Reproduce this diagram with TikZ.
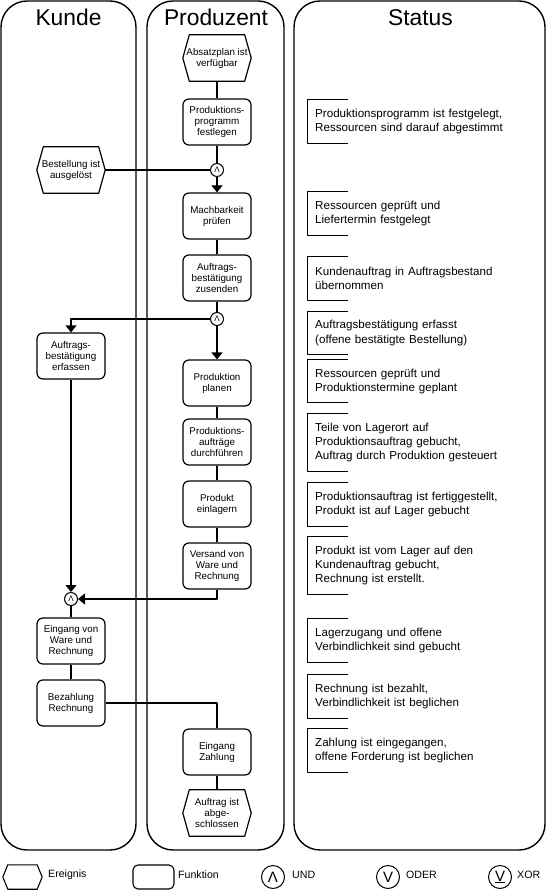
\documentclass[tikz,border=0pt]{standalone}
\usepackage{fontspec}
\setmainfont{Liberation Sans}
\usetikzlibrary{arrows.meta}
\begin{document}
\begin{tikzpicture}[x=1pt,y=-1pt, line join=round,
 lane/.style={draw, line width=1.4pt, rounded corners=26pt},
 title/.style={font=\fontsize{22.8}{26}\selectfont, anchor=base, inner sep=0pt},
 fn/.style={draw, line width=1.2pt, rounded corners=6pt, minimum width=68pt, minimum height=46pt, align=center, font=\fontsize{9.8}{11}\selectfont, inner sep=1pt},
 ev/.style={minimum width=68pt, minimum height=46pt, align=center, font=\fontsize{9.8}{11}\selectfont, inner sep=1pt},
 con/.style={draw, circle, line width=1pt, minimum size=13pt, inner sep=0pt, fill=white, font=\fontsize{8}{8}\selectfont},
 st/.style={anchor=west, align=left, inner xsep=8pt, inner ysep=0pt, font=\fontsize{11.6}{14}\selectfont, text width=220pt},
 ln/.style={line width=1.2pt},
 arr/.style={ln, -{Triangle[width=11pt,length=7pt]}},
 lgtext/.style={anchor=west, inner sep=0pt, font=\fontsize{10.6}{12}\selectfont},
 lgcon/.style={draw, circle, line width=1pt, minimum size=23pt, inner sep=0pt, font=\fontsize{15}{15}\selectfont},
]
\useasboundingbox (0,0) rectangle (547,890);

% lanes
\draw[lane] (1,1) rectangle (136,850);
\draw[lane] (147,1) rectangle (284,850);
\draw[lane] (294,1) rectangle (545,850);
\node[title] (tk) at (68.5,26) {Kunde};
\node[title] (tp) at (216,26) {Produzent};
\node[title] (ts) at (420.5,26) {Status};

% Produzent
\node[ev] (p_abs) at (217,58) {Absatzplan ist\\verfügbar};
\node[fn] (p_prog) at (217,122) {Produktions-\\programm\\festlegen};
\node[con] (and1) at (217,170) {Λ};
\node[fn] (p_mach) at (217,216) {Machbarkeit\\prüfen};
\node[fn] (p_best) at (217,278) {Auftrags-\\bestätigung\\zusenden};
\node[con] (and2) at (217,319) {Λ};
\node[fn] (p_plan) at (217,383) {Produktion\\planen};
\node[fn] (p_dur) at (217,442) {Produktions-\\aufträge\\durchführen};
\node[fn] (p_einl) at (217,504) {Produkt\\einlagern};
\node[fn] (p_vers) at (217,566) {Versand von\\Ware und\\Rechnung};
\node[fn] (p_zahl) at (217,752) {Eingang\\Zahlung};
\node[ev] (p_abg) at (217,813) {Auftrag ist\\abge-\\schlossen};

% Kunde
\node[ev] (k_best) at (71,170) {Bestellung ist\\ausgelöst};
\node[fn] (k_erf) at (71,356) {Auftrags-\\bestätigung\\erfassen};
\node[con] (and3) at (71,599) {Λ};
\node[fn] (k_eing) at (71,641) {Eingang von\\Ware und\\Rechnung};
\node[fn] (k_bez) at (71,703) {Bezahlung\\Rechnung};

% event hexagons
\foreach \n in {p_abs,p_abg,k_best}
  \draw[line width=1.2pt] ([xshift=6.5pt]\n.north west) -- ([xshift=-6.5pt]\n.north east) -- (\n.east)
    -- ([xshift=-6.5pt]\n.south east) -- ([xshift=6.5pt]\n.south west) -- (\n.west) -- cycle;

% connectors
\draw[ln] (p_abs) -- (p_prog);
\draw[ln] (p_prog) -- (and1);
\draw[ln] (k_best) -- (and1);
\draw[arr] (and1) -- (p_mach);
\draw[ln] (p_mach) -- (p_best);
\draw[ln] (p_best) -- (and2);
\draw[arr] (and2) -| (k_erf);
\draw[arr] (and2) -- (p_plan);
\draw[ln] (p_plan) -- (p_dur);
\draw[ln] (p_dur) -- (p_einl);
\draw[ln] (p_einl) -- (p_vers);
\draw[arr] (k_erf) -- (and3);
\draw[arr] (p_vers) |- (and3);
\draw[ln] (and3) -- (k_eing);
\draw[ln] (k_eing) -- (k_bez);
\draw[ln] (k_bez) -| (p_zahl);
\draw[ln] (p_zahl) -- (p_abg);

% status
\node[st, minimum height=43pt] (s1) at (307,121.5) {Produktionsprogramm ist festgelegt,\\Ressourcen sind darauf abgestimmt};
\node[st, minimum height=43pt] (s2) at (307,213.5) {Ressourcen geprüft und\\Liefertermin festgelegt};
\node[st, minimum height=43pt] (s3) at (307,278.5) {Kundenauftrag in Auftragsbestand\\übernommen};
\node[st, minimum height=42pt] (s4) at (307,333) {Auftragsbestätigung erfasst\\(offene bestätigte Bestellung)};
\node[st, minimum height=42pt] (s5) at (307,381) {Ressourcen geprüft und\\Produktionstermine geplant};
\node[st, minimum height=57pt] (s6) at (307,442.5) {Teile von Lagerort auf\\Produktionsauftrag gebucht,\\Auftrag durch Produktion gesteuert};
\node[st, minimum height=43pt] (s7) at (307,504.5) {Produktionsauftrag ist fertiggestellt,\\Produkt ist auf Lager gebucht};
\node[st, minimum height=57pt] (s8) at (307,565.5) {Produkt ist vom Lager auf den\\Kundenauftrag gebucht,\\Rechnung ist erstellt.};
\node[st, minimum height=43pt] (s9) at (307,640.5) {Lagerzugang und offene\\Verbindlichkeit sind gebucht};
\node[st, minimum height=43pt] (s10) at (307,696.5) {Rechnung ist bezahlt,\\Verbindlichkeit ist beglichen};
\node[st, minimum height=43pt] (s11) at (307,750.5) {Zahlung ist eingegangen,\\offene Forderung ist beglichen};
\foreach \n in {s1,s2,s3,s4,s5,s6,s7,s8,s9,s10,s11}
  \draw[line width=1pt] ([xshift=41pt]\n.north west) -- (\n.north west) -- (\n.south west) -- ([xshift=41pt]\n.south west);

% legend
\node[minimum width=39pt, minimum height=24pt, inner sep=0pt] (lg_e) at (22.5,877) {};
\draw[line width=1.1pt] ([xshift=5pt]lg_e.north west) -- ([xshift=-5pt]lg_e.north east) -- (lg_e.east)
    -- ([xshift=-5pt]lg_e.south east) -- ([xshift=5pt]lg_e.south west) -- (lg_e.west) -- cycle;
\node[lgtext] (lg_et) at (48,875) {Ereignis};
\node[draw, line width=1.1pt, rounded corners=5pt, minimum width=41pt, minimum height=24pt, inner sep=0pt] (lg_f) at (153.5,877) {};
\node[lgtext] (lg_ft) at (178,875) {Funktion};
\node[lgcon] (lg_u) at (273,877) {Λ};
\node[lgtext] (lg_ut) at (292,875) {UND};
\node[lgcon] (lg_o) at (388,877) {V};
\node[lgtext] (lg_ot) at (406,875) {ODER};
\node[lgcon] (lg_x) at (500,877) {\underline{V}};
\node[lgtext] (lg_xt) at (517,875) {XOR};
\end{tikzpicture}
\end{document}
